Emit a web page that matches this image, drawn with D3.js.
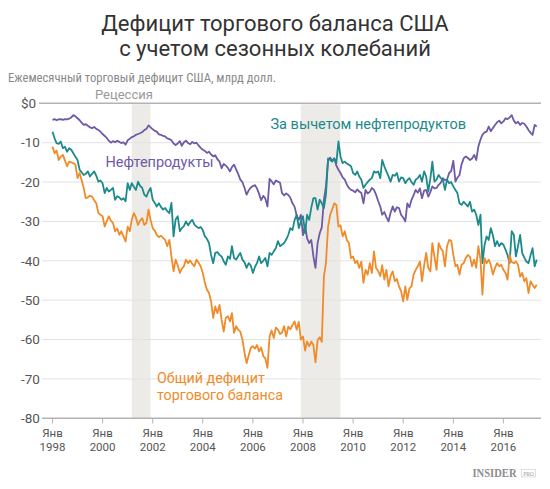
<!DOCTYPE html>
<html><head><meta charset="utf-8">
<script src="https://cdn.jsdelivr.net/npm/d3@7"></script>
<style>body{margin:0;background:#fff}svg{display:block;font-family:Roboto,"Noto Sans",sans-serif}</style>
</head><body><svg id="c" width="550" height="489"></svg>
<script>
// Monthly data, starting January 1998
const startYear = 1998;
const petroleum = [
-4.2,-4.0,-4.3,-4.1,-4.0,-4.2,-4.0,-4.1,-3.9,-3.6,-3.0,-3.3,
-3.8,-4.3,-4.9,-5.5,-5.3,-5.7,-6.1,-6.3,-6.0,-6.5,-6.8,-7.2,
-7.8,-8.3,-8.8,-9.5,-10.0,-9.6,-9.9,-9.5,-9.8,-10.1,-9.9,-10.5,
-9.4,-9.0,-8.6,-8.4,-8.0,-7.8,-7.6,-7.3,-6.8,-6.5,-5.6,-6.1,
-6.6,-7.0,-7.2,-7.9,-8.0,-8.3,-8.4,-8.9,-9.1,-9.4,-10.2,-10.6,
-10.2,-9.6,-10.8,-9.9,-9.5,-10.1,-10.4,-9.8,-10.2,-10.0,-10.7,-11.3,
-11.8,-12.1,-12.6,-12.3,-13.0,-13.5,-13.2,-14.2,-14.8,-16.5,-15.4,-15.8,
-16.4,-17.3,-16.2,-15.6,-16.8,-18.0,-19.4,-20.0,-21.5,-23.2,-22.1,-21.4,
-21.0,-20.8,-21.6,-23.0,-24.6,-23.5,-24.2,-26.2,-19.2,-19.8,-20.6,-19.6,
-19.9,-20.2,-22.8,-23.4,-22.9,-23.3,-24.0,-25.4,-26.3,-28.5,-29.6,-28.3,
-33.5,-31.0,-34.3,-35.5,-34.7,-38.9,-41.8,-35.5,-33.0,-31.5,-24.5,-21.1,
-14.4,-13.8,-14.6,-14.0,-15.8,-16.9,-17.7,-18.8,-19.4,-20.6,-21.5,-22.0,
-22.2,-22.6,-21.9,-22.4,-22.8,-25.4,-22.0,-22.9,-22.5,-21.5,-22.0,-23.2,
-24.8,-26.2,-28.3,-27.6,-28.9,-30.0,-27.8,-26.2,-27.5,-26.4,-26.6,-28.3,
-29.0,-30.0,-25.4,-26.4,-24.5,-23.3,-22.0,-22.7,-21.6,-24.1,-22.2,-22.0,
-23.7,-22.5,-21.1,-21.6,-21.5,-20.7,-20.2,-19.0,-19.5,-19.4,-17.7,-17.2,
-14.6,-19.9,-18.9,-18.2,-15.5,-14.0,-13.5,-13.9,-14.4,-14.0,-13.1,-14.4,
-11.0,-9.2,-8.0,-7.4,-7.2,-5.9,-7.1,-6.3,-5.5,-4.8,-4.4,-5.1,
-4.6,-3.8,-4.0,-3.6,-3.0,-4.4,-5.1,-4.7,-5.5,-5.0,-5.2,-5.9,
-6.8,-7.5,-8.0,-5.5,-5.9];
const nonPetroleum = [
-7.2,-8.9,-10.1,-10.3,-9.7,-11.4,-11.0,-12.3,-11.4,-11.8,-12.7,-13.6,
-14.4,-16.9,-17.5,-18.2,-17.9,-17.3,-18.6,-17.9,-17.3,-18.4,-19.9,-19.6,
-20.3,-22.8,-21.5,-22.4,-22.0,-21.5,-24.5,-23.6,-23.9,-24.5,-24.1,-24.9,
-20.3,-22.0,-20.3,-21.2,-22.0,-19.9,-21.0,-21.5,-23.2,-23.7,-22.4,-21.5,
-24.5,-25.3,-26.2,-25.4,-26.3,-27.0,-26.6,-27.4,-27.9,-25.3,-33.8,-29.5,
-28.7,-32.5,-31.7,-31.2,-30.0,-31.0,-30.2,-29.6,-30.8,-31.3,-31.7,-31.4,
-32.2,-33.8,-34.4,-35.5,-38.5,-40.6,-38.0,-37.8,-38.5,-38.9,-40.1,-41.0,
-38.9,-39.5,-36.3,-39.3,-39.7,-38.8,-38.0,-39.7,-40.4,-41.8,-40.6,-41.2,
-43.1,-41.5,-40.6,-38.9,-40.6,-40.0,-39.3,-41.4,-38.0,-38.5,-37.6,-36.8,
-35.0,-36.3,-35.9,-35.5,-34.6,-33.4,-31.7,-32.2,-29.6,-28.3,-31.7,-30.0,
-28.7,-33.0,-28.3,-29.6,-26.5,-24.1,-24.1,-27.0,-24.5,-25.4,-26.6,-23.2,
-14.0,-14.4,-14.8,-14.0,-15.2,-9.7,-13.5,-15.2,-14.8,-15.3,-15.6,-16.0,
-17.7,-18.2,-17.3,-18.6,-19.4,-21.5,-20.7,-20.0,-19.4,-19.0,-17.3,-17.6,
-17.3,-19.0,-14.4,-16.0,-17.3,-18.5,-19.9,-18.2,-18.4,-17.7,-19.9,-18.8,
-19.0,-20.3,-19.5,-19.0,-20.0,-20.7,-19.4,-19.0,-18.2,-19.9,-17.3,-18.6,
-22.4,-19.0,-14.8,-19.9,-19.4,-18.2,-19.0,-19.4,-22.0,-19.4,-20.3,-20.0,
-21.1,-22.0,-22.8,-25.4,-25.8,-25.0,-25.6,-26.2,-25.0,-27.5,-27.0,-28.3,
-30.9,-28.3,-40.6,-36.0,-33.8,-34.7,-31.7,-33.5,-36.3,-35.0,-36.3,-35.5,
-35.9,-37.2,-38.5,-40.6,-32.5,-33.4,-38.9,-36.3,-33.4,-38.0,-39.2,-40.2,
-40.6,-38.5,-36.8,-41.4,-39.7];
const total = [
-11.0,-12.7,-12.0,-14.4,-13.6,-13.1,-14.5,-16.0,-14.8,-15.0,-15.2,-15.6,
-19.0,-17.7,-19.5,-21.5,-24.1,-23.9,-23.5,-23.7,-24.6,-25.4,-27.9,-28.3,
-28.7,-31.3,-30.0,-28.7,-29.8,-30.4,-32.5,-31.8,-33.4,-32.5,-33.8,-35.1,
-31.3,-32.5,-29.6,-27.9,-29.0,-30.9,-29.8,-29.2,-30.9,-30.4,-27.0,-29.6,
-31.7,-32.4,-33.4,-34.0,-33.6,-34.2,-34.7,-36.3,-34.7,-38.9,-42.7,-39.7,
-41.2,-43.1,-42.0,-41.4,-39.7,-40.6,-39.9,-40.8,-41.4,-39.7,-40.5,-41.4,
-43.1,-45.6,-47.3,-48.2,-50.3,-54.5,-51.6,-53.3,-51.2,-54.9,-58.0,-54.5,
-54.1,-55.4,-53.3,-58.3,-56.6,-57.5,-58.0,-60.0,-63.4,-66.0,-64.0,-62.1,
-61.7,-62.3,-61.4,-63.0,-62.0,-64.2,-64.8,-67.2,-59.2,-57.7,-59.6,-57.0,
-57.5,-58.6,-58.3,-56.6,-59.2,-56.7,-57.4,-56.3,-55.4,-57.5,-55.5,-60.0,
-59.2,-62.8,-60.5,-61.7,-60.5,-61.4,-65.8,-60.2,-59.4,-60.6,-44.0,-40.5,
-31.3,-28.3,-27.0,-25.4,-25.8,-31.3,-31.0,-33.8,-32.5,-34.7,-35.5,-39.3,
-38.9,-40.6,-40.0,-41.8,-40.2,-45.6,-42.3,-43.5,-40.6,-43.1,-37.6,-41.8,
-42.6,-43.9,-41.1,-44.8,-42.3,-46.5,-43.9,-42.7,-45.2,-44.6,-46.5,-47.7,
-50.3,-46.5,-49.9,-47.0,-46.5,-43.5,-42.3,-41.4,-40.2,-45.2,-41.2,-38.0,
-41.8,-42.7,-35.5,-39.0,-42.3,-35.5,-36.8,-37.6,-41.4,-36.3,-34.7,-34.9,
-38.5,-41.4,-41.0,-43.5,-41.0,-40.6,-39.3,-38.5,-39.0,-41.4,-39.7,-41.8,
-36.3,-39.7,-48.6,-39.3,-40.6,-39.7,-41.0,-43.5,-41.8,-40.6,-41.4,-41.0,
-42.3,-43.1,-44.8,-38.5,-40.3,-40.6,-40.2,-41.0,-44.0,-43.1,-45.2,-44.4,
-48.2,-45.2,-46.1,-46.9,-46.1];
const recessions = [["2001-03-01","2001-11-30"],["2007-12-01","2009-06-30"]];
const yTicks = [0,-10,-20,-30,-40,-50,-60,-70,-80];
const yTickLabels = ["$0","-10","-20","-30","-40","-50","-60","-70","-80"];
const xTickYears = [1998,2000,2002,2004,2006,2008,2010,2012,2014,2016];
const xTickMonth = "Янв";
const seriesNames = ["Нефтепродукты","За вычетом нефтепродуктов",["Общий дефицит","торгового баланса"]];
const colors = {petroleum:"#6f5aa6", nonPetroleum:"#1c8a8b", total:"#f08b2a"};

const svg = d3.select("#c");
const x = d3.scaleTime().domain([new Date(1998,0,1), new Date(2016,0,1)]).range([52.5, 503.4]);
const y = d3.scaleLinear().domain([-80,0]).range([418.3,103.3]);
const dates = petroleum.map((_,i)=>new Date(startYear, i, 1));
const parse = d3.timeParse("%Y-%m-%d");

// Title
svg.append("text").attr("x",275).attr("y",31).attr("text-anchor","middle")
  .attr("font-size",22).attr("fill","#333").text("Дефицит торгового баланса США");
svg.append("text").attr("x",275).attr("y",56).attr("text-anchor","middle")
  .attr("font-size",22).attr("fill","#333").text("с учетом сезонных колебаний");
svg.append("text").attr("x",8).attr("y",82).attr("font-size",12.5).attr("fill","#8a8a8a")
  .style("font-family","'Liberation Sans Narrow','Roboto Condensed',Roboto,sans-serif")
  .attr("textLength",268).attr("lengthAdjust","spacingAndGlyphs")
  .text("Ежемесячный торговый дефицит США, млрд долл.");

// Recession bands
svg.append("g").selectAll("rect").data(recessions).join("rect")
  .attr("x",d=>x(parse(d[0]))).attr("width",d=>x(parse(d[1]))-x(parse(d[0])))
  .attr("y",y(0)+1).attr("height",y(-80)-y(0)-1).attr("fill","#ecebe8");
svg.append("text").attr("x",95).attr("y",99).attr("font-size",13).attr("fill","#9a9a9a").text("Рецессия");

// Grid
const grid = svg.append("g");
grid.selectAll("line").data(yTicks).join("line")
  .attr("x1",d=>d===0?39:42).attr("x2",541)
  .attr("y1",d=>y(d)).attr("y2",d=>y(d))
  .attr("stroke",d=>(d===0||d===-80)?"#b3b3b3":"#e2e2e2")
  .attr("stroke-width",d=>(d===0||d===-80)?1.5:1);
svg.append("g").selectAll("text").data(yTicks).join("text")
  .attr("x",21).attr("y",d=>y(d)).attr("dy","0.35em")
  .attr("font-size",13.5).attr("fill","#555").text((d,i)=>yTickLabels[i]);

// X axis
const xTicks = xTickYears.map(yr=>new Date(yr,0,1));
const xg = svg.append("g");
xg.selectAll("line").data(xTicks).join("line")
  .attr("x1",d=>x(d)).attr("x2",d=>x(d)).attr("y1",418.3).attr("y2",423.5)
  .attr("stroke","#b3b3b3").attr("stroke-width",1);
xg.selectAll("text.m").data(xTicks).join("text").attr("class","m")
  .attr("text-anchor","middle").attr("font-size",11.5).attr("fill","#555")
  .attr("x",d=>x(d)).attr("y",436.5).text(xTickMonth);
xg.selectAll("text.yr").data(xTicks).join("text").attr("class","yr")
  .attr("text-anchor","middle").attr("font-size",11.5).attr("fill","#555")
  .attr("x",d=>x(d)).attr("y",450.5).text(d=>d.getFullYear());

// Lines
const line = d3.line().x((d,i)=>x(dates[i])).y(d=>y(d));
[["petroleum",petroleum],["nonPetroleum",nonPetroleum],["total",total]].forEach(([k,arr])=>{
  svg.append("path").datum(arr).attr("d",line).attr("fill","none")
    .attr("stroke",colors[k]).attr("stroke-width",1.8).attr("stroke-linejoin","round");
});

// Series labels
svg.append("text").attr("x",105.5).attr("y",167).attr("font-size",14.5).attr("fill",colors.petroleum).text(seriesNames[0]);
svg.append("text").attr("x",270.5).attr("y",128.5).attr("font-size",14.5).attr("fill",colors.nonPetroleum).text(seriesNames[1]);
svg.append("text").attr("x",157).attr("y",382.5).attr("font-size",14.3).attr("fill",colors.total).text(seriesNames[2][0]);
svg.append("text").attr("x",157).attr("y",400).attr("font-size",14.3).attr("fill",colors.total).text(seriesNames[2][1]);

// Logo
svg.append("text").attr("x",472.5).attr("y",477).attr("font-size",12).attr("font-weight","bold")
  .style("font-family","'Liberation Serif',serif").attr("fill","#8c8c8c")
  .attr("textLength",44).attr("lengthAdjust","spacingAndGlyphs").text("INSIDER");
svg.append("rect").attr("x",521.5).attr("y",469.5).attr("width",14).attr("height",7.5)
  .attr("fill","none").attr("stroke","#c8c8c8").attr("stroke-width",0.6);
svg.append("text").attr("x",528.5).attr("y",475.6).attr("text-anchor","middle").attr("font-size",5.5)
  .style("font-family","'Liberation Serif',serif").attr("fill","#9a9a9a").text("PRO");
</script></body></html>
